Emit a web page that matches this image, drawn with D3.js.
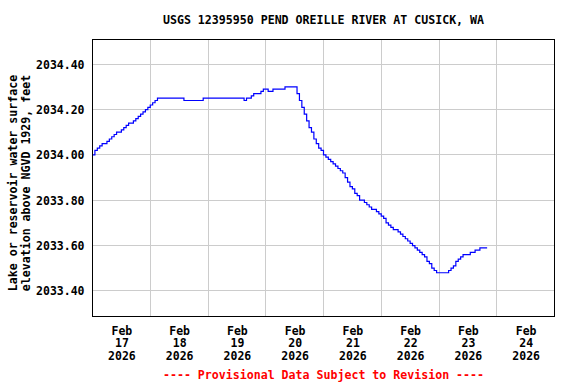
<!DOCTYPE html>
<html>
<head>
<meta charset="utf-8">
<script src="https://cdn.jsdelivr.net/npm/d3@7"></script>
<style>
  html, body { margin: 0; padding: 0; background: #ffffff; }
  svg { display: block; }
  text { font-family: "DejaVu Sans Mono", "Liberation Mono", monospace; font-weight: bold; }
</style>
</head>
<body>
<svg id="chart" width="576" height="384"></svg>
<script>
// ---------------- DATA ----------------
const title = "USGS 12395950 PEND OREILLE RIVER AT CUSICK, WA";
const yLabelLines = ["Lake or reservoir water surface", "elevation above NGVD 1929, feet"];
const footer = "---- Provisional Data Subject to Revision ----";
const seriesStart = "2026-02-17T00:00:00";   // first reading, hourly thereafter
const seriesStepHours = 1;
// Hourly gage height readings (feet)
const elevation = [
  2034.00, 2034.02, 2034.03, 2034.04, 2034.05, 2034.05, 2034.06, 2034.07, 2034.08, 2034.09,
  2034.10, 2034.10, 2034.11, 2034.12, 2034.13, 2034.14, 2034.14, 2034.15, 2034.16, 2034.17,
  2034.18, 2034.19, 2034.20, 2034.21, 2034.22, 2034.23, 2034.24, 2034.25, 2034.25, 2034.25,
  2034.25, 2034.25, 2034.25, 2034.25, 2034.25, 2034.25, 2034.25, 2034.25, 2034.24, 2034.24,
  2034.24, 2034.24, 2034.24, 2034.24, 2034.24, 2034.24, 2034.25, 2034.25, 2034.25, 2034.25,
  2034.25, 2034.25, 2034.25, 2034.25, 2034.25, 2034.25, 2034.25, 2034.25, 2034.25, 2034.25,
  2034.25, 2034.25, 2034.25, 2034.24, 2034.25, 2034.25, 2034.26, 2034.27, 2034.27, 2034.27,
  2034.28, 2034.29, 2034.29, 2034.28, 2034.28, 2034.29, 2034.29, 2034.29, 2034.29, 2034.29,
  2034.30, 2034.30, 2034.30, 2034.30, 2034.30, 2034.27, 2034.24, 2034.21, 2034.18, 2034.15,
  2034.12, 2034.10, 2034.07, 2034.05, 2034.03, 2034.02, 2034.00, 2033.99, 2033.98, 2033.97,
  2033.96, 2033.95, 2033.94, 2033.93, 2033.92, 2033.90, 2033.88, 2033.86, 2033.85, 2033.83,
  2033.82, 2033.80, 2033.80, 2033.79, 2033.78, 2033.77, 2033.76, 2033.76, 2033.75, 2033.74,
  2033.73, 2033.72, 2033.70, 2033.69, 2033.68, 2033.67, 2033.67, 2033.66, 2033.65, 2033.64,
  2033.63, 2033.62, 2033.61, 2033.60, 2033.59, 2033.58, 2033.57, 2033.56, 2033.55, 2033.53,
  2033.52, 2033.50, 2033.49, 2033.48, 2033.48, 2033.48, 2033.48, 2033.48, 2033.49, 2033.50,
  2033.51, 2033.53, 2033.54, 2033.55, 2033.56, 2033.56, 2033.56, 2033.57, 2033.57, 2033.58,
  2033.58, 2033.59, 2033.59, 2033.59, 2033.59
];
const yTicks = [2033.40, 2033.60, 2033.80, 2034.00, 2034.20, 2034.40];
const xDays = ["2026-02-17", "2026-02-18", "2026-02-19", "2026-02-20", "2026-02-21", "2026-02-22", "2026-02-23", "2026-02-24"];
const xDomain = ["2026-02-17T00:00:00", "2026-02-25T00:00:00"];
const yDomain = [2033.287, 2034.509];

// ---------------- LAYOUT ----------------
const svg = d3.select("#chart");
const pLeft = 92.5, pRight = 554.5, pTop = 39.5, pBottom = 316.5;

const x = d3.scaleTime()
  .domain(xDomain.map(d => new Date(d)))
  .range([pLeft, pRight]);
const y = d3.scaleLinear().domain(yDomain).range([pBottom, pTop]);

const t0 = new Date(seriesStart);
const data = elevation.map((v, i) => ({ t: new Date(t0.getTime() + i * seriesStepHours * 3600e3), v }));

const snap = p => Math.round(p - 0.5) + 0.5;

// grid (vertical at midnights)
const mids = xDays.slice(1).map(d => new Date(d + "T00:00:00"));
const xGrid = d3.axisBottom(x).tickValues(mids).tickSize(-(pBottom - pTop)).tickFormat("");
svg.append("g").attr("class", "xgrid")
  .attr("transform", `translate(0,${pBottom})`)
  .call(xGrid)
  .call(g => g.select(".domain").remove())
  .call(g => g.selectAll(".tick").attr("transform", d => `translate(${snap(x(d))},0)`))
  .call(g => g.selectAll(".tick line").attr("stroke", "#cccccc").attr("stroke-width", 1));

// y axis with horizontal grid
const yAxis = d3.axisLeft(y).tickValues(yTicks).tickSize(-(pRight - pLeft)).tickPadding(8)
  .tickFormat(d3.format(".2f"));
svg.append("g").attr("class", "yaxis")
  .attr("transform", `translate(${pLeft},0)`)
  .call(yAxis)
  .call(g => g.select(".domain").remove())
  .call(g => g.selectAll(".tick").attr("transform", d => `translate(0,${snap(y(d))})`))
  .call(g => g.selectAll(".tick line").attr("stroke", "#cccccc").attr("stroke-width", 1))
  .call(g => g.selectAll(".tick text")
    .attr("font-family", "DejaVu Sans Mono").attr("font-weight", "bold")
    .attr("font-size", 11.5).attr("fill", "#000").attr("dy", "0.35em"));

// x labels at noon each day
const noons = xDays.map(d => new Date(d + "T12:00:00"));
const fmtMon = d3.timeFormat("%b"), fmtDay = d3.timeFormat("%d"), fmtYear = d3.timeFormat("%Y");
const xAxis = d3.axisBottom(x).tickValues(noons).tickSize(0).tickFormat("");
const xg = svg.append("g").attr("class", "xaxis")
  .attr("transform", `translate(0,${pBottom})`)
  .call(xAxis)
  .call(g => g.select(".domain").remove());
xg.selectAll(".tick").each(function(d) {
  const t = d3.select(this).select("text")
    .attr("y", 0).attr("dy", null)
    .attr("font-family", "DejaVu Sans Mono").attr("font-weight", "bold")
    .attr("font-size", 11.5).attr("fill", "#000").attr("text-anchor", "middle");
  t.selectAll("tspan").data([fmtMon(d), fmtDay(d), fmtYear(d)]).join("tspan")
    .attr("x", 0).attr("y", (s, i) => 18 + i * 12.8).text(s => s);
});

// series line
const line = d3.line().x(d => x(d.t)).y(d => y(d.v)).curve(d3.curveStepAfter);
svg.append("path").datum(data)
  .attr("d", line)
  .attr("fill", "none").attr("stroke", "#0000ff").attr("stroke-width", 1.2);

// frame
svg.append("rect")
  .attr("x", pLeft).attr("y", pTop)
  .attr("width", pRight - pLeft).attr("height", pBottom - pTop)
  .attr("fill", "none").attr("stroke", "#000").attr("stroke-width", 1);

// title
svg.append("text").attr("x", (pLeft + pRight) / 2).attr("y", 24)
  .attr("text-anchor", "middle").attr("font-size", 11.6).attr("fill", "#000").text(title);

// y label
const yl = svg.append("text")
  .attr("transform", `translate(0,183) rotate(-90)`)
  .attr("text-anchor", "middle").attr("font-size", 11.6).attr("fill", "#000");
yl.selectAll("tspan").data(yLabelLines).join("tspan")
  .attr("x", 0).attr("y", (d, i) => 16.5 + i * 13).text(d => d);

// footer
svg.append("text").attr("x", (pLeft + pRight) / 2).attr("y", 379)
  .attr("text-anchor", "middle").attr("font-size", 11.6).attr("fill", "#ff0000").text(footer);
</script>
</body>
</html>
